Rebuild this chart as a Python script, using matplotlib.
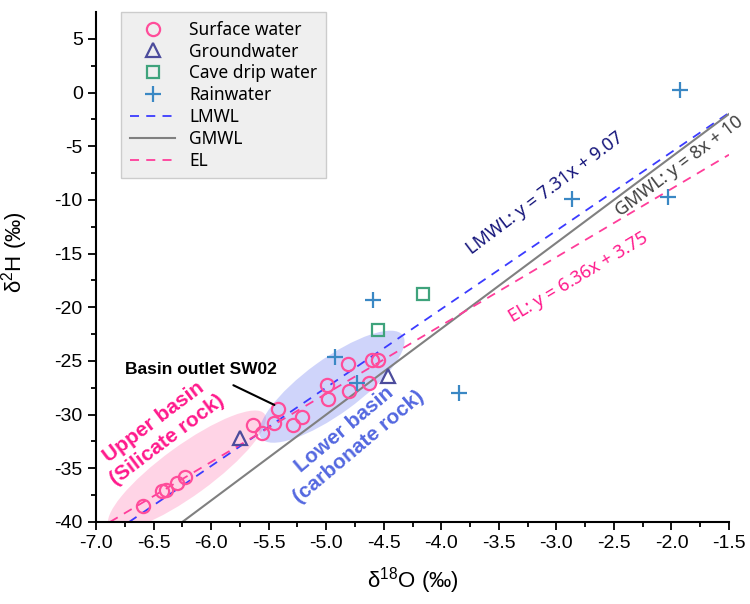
import numpy as np
import matplotlib
matplotlib.use("Agg")
import matplotlib.pyplot as plt
from matplotlib.patches import Ellipse
from matplotlib.transforms import ScaledTranslation

plt.rcParams['font.family'] = ['Liberation Sans', 'DejaVu Sans']
plt.rcParams['mathtext.fontset'] = 'custom'
plt.rcParams['mathtext.rm'] = 'Liberation Sans'
plt.rcParams['mathtext.it'] = 'Liberation Sans:italic'
plt.rcParams['axes.unicode_minus'] = False

# datos
sw_x = [-6.59, -6.43, -6.39, -6.30, -6.23, -5.64, -5.56, -5.45, -5.42, -5.29,
        -5.21, -4.99, -4.98, -4.81, -4.80, -4.60, -4.55, -4.63]
sw_y = [-38.5, -37.1, -37.0, -36.4, -35.8, -31.0, -31.7, -30.8, -29.5, -31.0,
        -30.2, -27.2, -28.5, -25.3, -27.8, -24.9, -24.9, -27.1]

gw_x = [-5.75, -4.46]
gw_y = [-32.2, -26.4]

cave_x = [-4.16, -4.55]
cave_y = [-18.8, -22.1]

rain_x = [-1.93, -2.86, -2.03, -3.85, -4.59, -4.92, -4.73]
rain_y = [0.2, -9.9, -9.7, -28.0, -19.3, -24.6, -27.1]

# rectas: (pendiente, ordenada)
lmwl = (7.31, 9.07)
gmwl = (8.0, 10.0)
el = (6.36, 3.75)

xlim = (-7.0, -1.5)
ylim = (-40, 7.5)

fig = plt.figure(figsize=(7.5, 6.04), dpi=100)
ax = fig.add_axes([0.128, 0.1358, 0.844, 0.8443])


def recta(m, b):
    x0 = (ylim[0] - b) / m
    xs = np.array([x0, xlim[1]])
    return xs, m * xs + b


def elipse(cx, cy, w, h, ang, color):
    tr = fig.dpi_scale_trans + ScaledTranslation(cx, cy, ax.transData)
    e = Ellipse((0, 0), w, h, angle=ang, transform=tr, facecolor=color,
                edgecolor='none', zorder=1)
    ax.add_patch(e)


elipse(-6.21, -35.2, 1.92, 0.50, 36, (1.0, 0.45, 0.68, 0.30))
elipse(-4.95, -27.4, 1.75, 0.55, 36, (0.42, 0.48, 0.95, 0.32))

xs, ys = recta(*lmwl)
ax.plot(xs, ys, color='#3b3bff', ls=(0, (5, 4)), lw=1.3, label='LMWL', zorder=2)
xs, ys = recta(*gmwl)
ax.plot(xs, ys, color='#808080', lw=1.5, label='GMWL', zorder=2)
xs, ys = recta(*el)
ax.plot(xs, ys, color='#ff3d9a', ls=(0, (5, 4)), lw=1.3, label='EL', zorder=2)

ax.plot(sw_x, sw_y, 'o', ms=9.5, mfc='none', mec='#ff4d9a', mew=1.6,
        label='Surface water', zorder=3)
ax.plot(gw_x, gw_y, '^', ms=10, mfc='none', mec='#4c4c9c', mew=1.6,
        label='Groundwater', zorder=3)
ax.plot(cave_x, cave_y, 's', ms=8.5, mfc='none', mec='#3fa37c', mew=1.6,
        label='Cave drip water', zorder=3)
ax.plot(rain_x, rain_y, '+', ms=11, mec='#3a88c4', mew=1.6,
        label='Rainwater', zorder=3)

ax.set_xlim(*xlim)
ax.set_ylim(*ylim)
ax.set_xticks(np.arange(-7.0, -1.49, 0.5))
ax.set_xticks(np.arange(-7.0, -1.49, 0.25), minor=True)
ax.set_yticks(np.arange(-40, 6, 5))
ax.set_yticks(np.arange(-40, 7.5, 2.5), minor=True)
ax.set_xticklabels([f"{v:.1f}" for v in np.arange(-7.0, -1.49, 0.5)])
ax.tick_params(which='major', direction='out', length=6, width=1.3, labelsize=14)
ax.tick_params(which='minor', direction='out', length=3.5, width=1.3)
for s in ['top', 'right']:
    ax.spines[s].set_visible(False)
for s in ['left', 'bottom']:
    ax.spines[s].set_linewidth(1.5)

ax.set_xlabel(r'δ$^{18}$O (‰)', fontsize=16)
ax.set_ylabel(r'δ$^{2}$H (‰)', fontsize=16)
ax.xaxis.set_label_coords(0.5, -0.085)
ax.yaxis.set_label_coords(-0.105, 0.53)

# orden de leyenda
h, l = ax.get_legend_handles_labels()
orden = ['Surface water', 'Groundwater', 'Cave drip water', 'Rainwater', 'LMWL', 'GMWL', 'EL']
hh = [h[l.index(o)] for o in orden]
leg = ax.legend(hh, orden, loc='upper left', bbox_to_anchor=(0.04, 1.0),
                frameon=True, fancybox=False, facecolor='#efefef', edgecolor='#cccccc',
                framealpha=1, prop={'family': 'Noto Sans', 'size': 12.5},
                handlelength=2.6, labelspacing=0.22, borderpad=0.5, borderaxespad=0)

fs = {'family': 'Noto Sans'}
ax.text(-3.10, -9.35, 'LMWL: y = 7.31x + 9.07', color='#14147a', fontsize=13,
        rotation=37, ha='center', va='center', **fs)
ax.text(-1.93, -6.85, 'GMWL: y = 8x + 10', color='#404040', fontsize=13,
        rotation=37, ha='center', va='center', clip_on=False, **fs)
ax.text(-2.81, -17.2, 'EL: y = 6.36x + 3.75', color='#ff1a8c', fontsize=13,
        rotation=31, ha='center', va='center', **fs)

fb = {'family': 'Liberation Sans', 'fontweight': 'bold'}
ax.text(-6.44, -31.5, 'Upper basin\n(Silicate rock)', color='#ff1a8c', fontsize=15,
        rotation=37, ha='center', va='center',
        linespacing=1.25, multialignment='center', **fb)
ax.text(-4.78, -32.2, 'Lower basin\n(carbonate rock)', color='#5468e0', fontsize=15,
        rotation=40, ha='center', va='center',
        linespacing=1.25, multialignment='center', **fb)

ax.annotate('Basin outlet SW02', xy=(-5.45, -29.1), xytext=(-6.09, -25.8),
            fontsize=12.5, ha='center', va='center', **fb,
            arrowprops=dict(arrowstyle='-', color='black', lw=1.5,
                            shrinkA=9, shrinkB=0))

fig.savefig('out.png', dpi=100)
